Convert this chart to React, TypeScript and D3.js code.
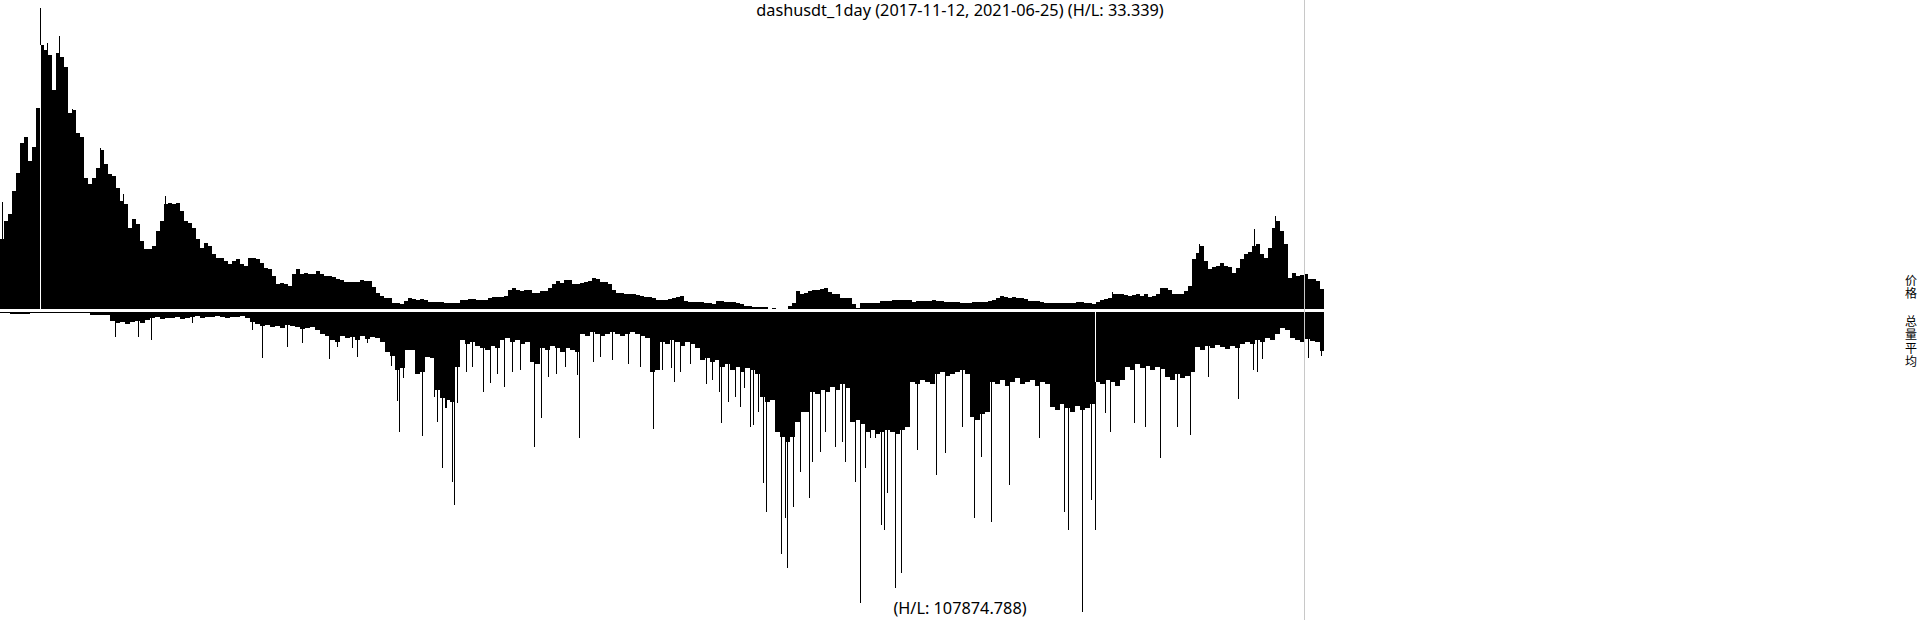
import React from 'react';
import * as d3 from 'd3';

const TITLE = 'dashusdt_1day (2017-11-12, 2021-06-25) (H/L: 33.339)';
const VOLUME_NOTE = '(H/L: 107874.788)';
const PANEL_LABELS = ['价格', '总量平均'];

const DAYS = 1324;
const CURSOR_DAY = 1304;

// daily price sampled every 4 days (USD)
const PRICE_STEP = 4;
const priceClose = [
  396, 486, 521, 636, 726, 871, 901, 786, 851, 1046, 1361, 1336, 1311, 1136, 1321, 1301, 1251, 1021, 1036, 921,
  901, 701, 671, 701, 751, 836, 771, 721, 711, 651, 586, 571, 451, 496, 471, 386, 346, 346, 361, 436,
  486, 571, 576, 571, 576, 536, 486, 476, 451, 396, 351, 376, 361, 321, 301, 301, 286, 271, 286, 296,
  271, 261, 301, 301, 296, 276, 251, 246, 211, 171, 176, 171, 161, 221, 246, 221, 226, 221, 221, 236,
  221, 211, 211, 206, 196,
  191, 181, 181, 181, 181, 191, 186, 186, 156, 126,
  111, 101, 101, 76, 76, 71, 86, 101, 96, 91,
  96, 91, 81, 81, 81, 81, 76, 76, 76, 76,
  91, 91, 96, 96, 91, 91, 91, 101, 106, 106,
  106, 111, 141, 151, 141, 136, 141, 141, 126, 126,
  136, 136, 151, 171, 186, 176, 191, 191, 171, 171,
  176, 181, 186, 201, 196, 181, 181, 171, 141, 126,
  126, 121, 121, 121, 116, 111, 106, 106, 101, 91,
  91, 91, 96,
  101, 106, 111, 86, 81, 81, 81, 81, 76, 76,
  71, 86, 86, 81, 81, 81, 76, 71, 61, 61,
  56, 56, 56, 56, 46, 51, 46, 46, 46, 61,
  76, 136, 121, 126, 136, 141, 141, 146, 151, 131,
  121, 121, 101, 101, 101, 71, 51, 76, 76, 76,
  76, 76, 86, 86, 86, 91, 91, 91, 91, 91,
  81, 86, 86, 86, 86, 91, 86, 86, 81, 81,
  81, 81, 76, 76, 76, 81, 81, 81, 81, 86,
  91, 101,
  111, 106, 101, 106, 101, 101, 96, 86, 86, 86,
  81, 76, 76, 76, 76, 76, 76, 76, 76, 81,
  81, 76, 76, 71, 81, 91, 96, 101, 121, 121,
  121, 116, 111, 116, 121, 111, 121, 106, 111, 121,
  151, 151, 141, 121, 121, 121, 136, 161, 296, 326,
  361, 286, 246, 256, 261, 276, 261, 256, 226, 251,
  296, 321, 331, 361, 371, 321, 301, 351, 451, 486,
  436, 371, 201, 226, 211, 216, 221, 196, 196, 186,
  146,
];

// single-day price peaks [day, USD]
const priceSpikes: [number, number][] = [
  [2, 581], [47, 1371], [59, 1406], [72, 1041], [100, 846], [123, 621], [165, 611],
  [1112, 131], [1199, 371], [1254, 446], [1275, 511],
];
const priceHigh = { day: 40, value: 1546 };

// volume (thousands) sampled every 5 days
const VOLUME_STEP = 5;
const volumeBase = [
  1, 1,
  2, 2, 2, 2, 1,
  1, 1, 1, 1, 1, 1, 1, 1, 1, 1, 1,
  3, 3, 3, 3,
  9, 11, 10, 12, 10, 9, 11, 8,
  6, 5, 7, 6, 6, 5, 7, 6,
  5, 4, 6, 5, 5, 4, 5, 6, 5, 5, 4, 6,
  10, 12, 14, 13, 15, 14, 16, 13, 14, 15, 17, 16, 15, 18,
  22, 24,
  28, 30,
  24, 26, 25, 28, 24, 27, 25, 26, 30,
  40, 44,
  58, 56,
  38, 38,
  62, 60,
  45, 46,
  78,
  86, 88, 90,
  55,
  28, 32, 30, 34,
  36, 38, 34, 36,
  28, 26, 30, 28, 32, 30,
  50, 52,
  36, 38, 34, 36, 40, 36, 38, 40,
  22, 24, 20, 22, 24, 22, 20, 22, 24, 22, 20, 22, 24, 26,
  60, 58,
  30, 32, 28, 30, 34, 30, 32, 36,
  48, 46, 50, 48,
  55, 52, 58, 55, 60, 56, 58, 62,
  85, 90, 88,
  120, 125, 130, 125,
  110, 100, 100,
  80, 82, 78, 80,
  75, 78, 72, 76,
  110, 108, 112,
  120, 118, 122, 120, 118,
  120, 122, 118, 115,
  70, 72, 68, 70, 72,
  62, 60, 64, 62, 60, 58, 62,
  105, 108, 102, 100,
  70, 72, 68, 74, 70, 66, 72, 70, 68, 74, 70, 72,
  95, 98, 92, 96, 100, 94, 98, 96, 92,
  70, 72, 68, 70, 74, 68,
  55, 58, 52, 56, 54, 58, 55, 57,
  65, 68, 62, 66, 64, 60,
  35, 38, 34, 36, 33, 35, 37, 34, 36, 32,
  30, 32, 28, 30, 26, 28, 22,
  16, 18,
  26, 28, 30, 27, 29, 30,
  39,
];

// single-day volume peaks [day, thousands]
const volumeSpikes: [number, number][] = [
  [115, 25], [138, 25], [151, 28], [192, 11], [252, 18], [262, 46], [287, 35], [302, 31],
  [329, 47], [337, 35], [352, 36], [357, 45], [367, 31], [391, 54], [397, 89], [399, 120],
  [403, 66], [415, 51], [422, 124], [434, 85], [437, 110], [442, 156], [445, 96], [446, 96],
  [447, 80], [449, 83], [452, 170], [454, 193], [457, 91],
  [466, 60], [472, 55], [483, 80], [490, 71], [497, 62], [504, 75], [512, 60], [520, 58],
  [534, 135], [541, 106], [548, 65], [556, 62], [565, 55], [577, 63], [579, 126], [593, 50],
  [600, 45], [612, 48], [628, 52], [640, 55], [653, 117], [662, 58], [671, 56], [674, 70],
  [680, 60], [690, 52], [706, 72], [712, 68], [719, 80], [721, 111], [728, 90], [735, 85],
  [740, 95], [744, 76], [750, 115], [753, 113], [758, 100], [763, 171], [766, 200],
  [781, 242], [785, 206], [787, 256], [793, 195], [800, 160], [809, 186], [812, 150],
  [820, 140], [825, 120], [835, 135], [842, 130], [845, 150], [855, 170], [860, 291],
  [865, 156], [870, 126], [875, 126], [881, 213], [884, 218], [887, 181],
  [895, 276], [901, 261], [917, 138], [936, 163], [945, 141], [962, 115], [974, 206],
  [981, 145], [991, 210], [1009, 173], [1039, 126], [1064, 200], [1068, 218], [1082, 300],
  [1091, 188], [1105, 101], [1110, 120], [1134, 111], [1145, 115], [1160, 146], [1177, 115],
  [1190, 123], [1208, 65], [1238, 87], [1253, 58], [1257, 60], [1262, 47], [1308, 46], [1321, 44],
];
const volumeMarker = { day: 1095, value: 218 };

const FONT = '"Noto Sans", sans-serif';
const CJK_FONT = '"Noto Sans CJK SC", "Noto Sans CJK JP", sans-serif';

export default function App() {
  const W = 1920;
  const H = 620;
  const chartW = 1324;
  const priceBase = 309;
  const volTop = 312;

  const x = d3.scaleLinear().domain([0, DAYS]).range([0, chartW]);
  const priceAll = [...priceClose, ...priceSpikes.map((d) => d[1]), priceHigh.value];
  const yP = d3
    .scaleLinear()
    .domain([d3.min(priceAll) as number, d3.max(priceAll) as number])
    .range([priceBase, 8]);
  const volAll = [...volumeBase, ...volumeSpikes.map((d) => d[1]), volumeMarker.value];
  const yV = d3.scaleLinear().domain([0, d3.max(volAll) as number]).range([volTop, 612]);

  const priceData = [...priceClose, priceClose[priceClose.length - 1]];
  const priceArea = d3
    .area<number>()
    .x((_, i) => x(Math.min(i * PRICE_STEP, DAYS)))
    .y0(priceBase)
    .y1((d) => yP(d))
    .curve(d3.curveStepAfter);

  const volData = [...volumeBase, volumeBase[volumeBase.length - 1]];
  const volArea = d3
    .area<number>()
    .x((_, i) => x(Math.min(i * VOLUME_STEP, DAYS)))
    .y0(volTop)
    .y1((d) => yV(d))
    .curve(d3.curveStepAfter);

  const dayW = x(1) - x(0);
  const priceAtHigh = priceClose[Math.floor(priceHigh.day / PRICE_STEP)];
  const volAtMarker = volumeBase[Math.floor(volumeMarker.day / VOLUME_STEP)];
  const labelBaselines = [285, 326];

  return (
    <svg
      width={W}
      height={H}
      style={{ position: 'absolute', left: 0, top: 0, background: '#fff' }}
    >
      <rect x={0} y={0} width={W} height={H} fill="#fff" />
      <g shapeRendering="crispEdges">
        <path d={priceArea(priceData) || ''} fill="#000" />
        {priceSpikes.map(([d, v], i) => (
          <rect key={'ps' + i} x={x(d)} width={dayW} y={yP(v)} height={priceBase - yP(v)} fill="#000" />
        ))}
        <rect x={x(priceHigh.day)} width={dayW} y={yP(priceHigh.value)} height={priceBase - yP(priceHigh.value)} fill="#000" />
        <rect x={x(priceHigh.day)} width={dayW} y={yP(priceAtHigh)} height={priceBase - yP(priceAtHigh)} fill="#fff" />

        <path d={volArea(volData) || ''} fill="#000" />
        {volumeSpikes.map(([d, v], i) => (
          <rect key={'vs' + i} x={x(d)} width={dayW} y={volTop} height={yV(v) - volTop} fill="#000" />
        ))}
        <rect x={x(volumeMarker.day)} width={dayW} y={volTop} height={yV(volumeMarker.value) - volTop} fill="#000" />
        <rect x={x(volumeMarker.day)} width={dayW} y={volTop} height={yV(volAtMarker) - volTop} fill="#fff" />

        <line x1={x(CURSOR_DAY) + 0.5} x2={x(CURSOR_DAY) + 0.5} y1={0} y2={H} stroke="#c8c8c8" strokeWidth={1} />
      </g>

      <text x={W / 2} y={15.5} textAnchor="middle" fontFamily={FONT} fontSize={16.3} fill="#000">
        {TITLE}
      </text>
      <text x={W / 2} y={614} textAnchor="middle" fontFamily={FONT} fontSize={16.3} fill="#000">
        {VOLUME_NOTE}
      </text>
      {PANEL_LABELS.map((lab, li) =>
        lab.split('').map((ch, ci) => (
          <text
            key={li + '-' + ci}
            x={1911}
            y={labelBaselines[li] + ci * 13.3}
            textAnchor="middle"
            fontFamily={CJK_FONT}
            fontSize={12}
            fill="#000"
          >
            {ch}
          </text>
        ))
      )}
    </svg>
  );
}
